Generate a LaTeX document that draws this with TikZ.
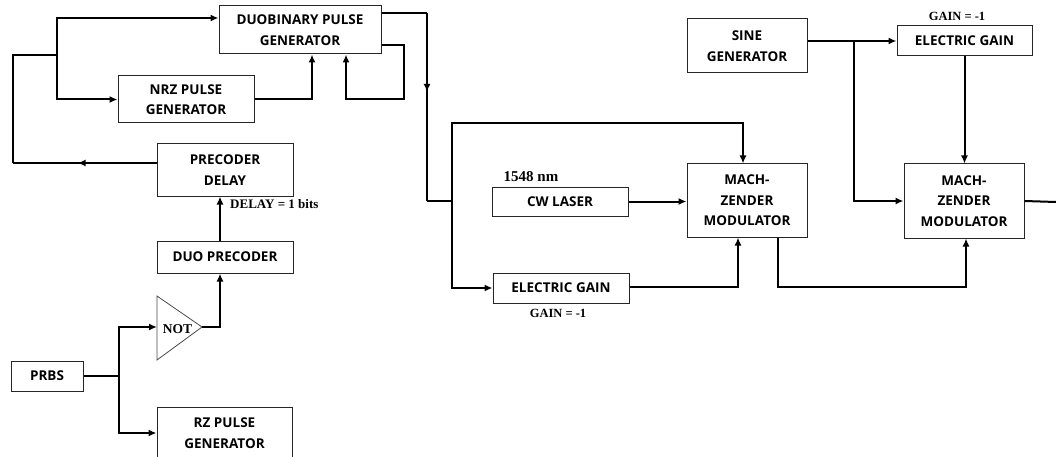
\documentclass[tikz,border=0pt]{standalone}
\usepackage{fontspec}
\newfontfamily\boxfont{Open Sans}
\newfontfamily\labfont{Liberation Serif}
\usetikzlibrary{arrows.meta,decorations.markings}
\begin{document}
\begin{tikzpicture}[x=1pt,y=-1pt,
  blk/.style={draw=black!85, line width=1pt, inner sep=0pt, align=center,
    font=\boxfont\bfseries\fontsize{13.5}{20.5}\selectfont},
  conn/.style={line width=2pt, black},
  arr/.style={conn,-{Latex[length=8pt,width=7pt]}},
  midarr/.style={postaction=decorate, decoration={markings,
    mark=at position #1 with {\arrow{Latex[length=8pt,width=7pt]}}}},
  lab/.style={font=\labfont\bfseries\fontsize{12.5}{14}\selectfont, inner sep=0pt}
]
\useasboundingbox (0,0) rectangle (1056,457);
\fill[white] (0,0) rectangle (1056,457);

% blocks
\node[blk, minimum width=162pt, minimum height=48pt] (duo) at (300,30) {DUOBINARY PULSE\\GENERATOR};
\node[blk, minimum width=136pt, minimum height=47pt] (nrz) at (186,99.5) {NRZ PULSE\\GENERATOR};
\node[blk, minimum width=136pt, minimum height=52pt] (pdel) at (225,170) {PRECODER\\DELAY};
\node[blk, minimum width=136pt, minimum height=32pt] (dpre) at (225,257) {DUO PRECODER};
\node[blk, minimum width=72pt, minimum height=30pt] (prbs) at (47,376) {PRBS};
\node[blk, minimum width=135pt, minimum height=52pt] (rz) at (224.5,433) {RZ PULSE\\GENERATOR};
\node[blk, minimum width=136pt, minimum height=29pt] (cw) at (560,201.5) {CW LASER};
\node[blk, minimum width=136pt, minimum height=30pt] (eg1) at (561,288) {ELECTRIC GAIN};
\node[blk, minimum width=120pt, minimum height=73pt] (mzm1) at (747,200.5) {MACH-\\ZENDER\\MODULATOR};
\node[blk, minimum width=120pt, minimum height=54pt] (sine) at (747,46) {SINE\\GENERATOR};
\node[blk, minimum width=135pt, minimum height=30pt] (eg2) at (964.5,41) {ELECTRIC GAIN};
\node[blk, minimum width=120pt, minimum height=74pt] (mzm2) at (964,201) {MACH-\\ZENDER\\MODULATOR};

% NOT gate
\coordinate (nt1) at (157,296);
\coordinate (nb) at (157,360);
\coordinate (ntip) at (202,327);
\coordinate (notin) at (157,327);
\draw[black!70, line width=0.8pt] (nt1) -- (ntip) -- (nb) -- cycle;
\node[lab, font=\labfont\bfseries\fontsize{13.5}{15}\selectfont] (nottxt) at (177.5,329) {NOT};

% labels
\node[lab, font=\labfont\bfseries\fontsize{13}{15}\selectfont, anchor=west] (dl) at (230,204) {DELAY = 1 bits};
\node[lab, font=\labfont\bfseries\fontsize{15}{17}\selectfont] (nm) at (531,177) {1548 nm};
\node[lab] (g1) at (558,313) {GAIN = -1};
\node[lab] (g2) at (957,16) {GAIN = -1};

% left loop
\coordinate (jl) at (57,55);
\coordinate (lb) at (13,163);
\coordinate (lt) at (13,55);
\draw[conn, midarr=0.55] ([yshift=7pt]pdel.west) -- (lb);
\draw[conn] (lb) -- (lt) -- (jl);
\draw[arr] (jl) |- ([yshift=12pt]duo.west);
\draw[arr] (jl) |- (nrz.west);
\draw[arr] (nrz.east) -| ([xshift=12pt]duo.south);

% feedback
\coordinate (fb1) at (404,45);
\coordinate (fb2) at (404,99);
\draw[arr] ([yshift=-15pt]duo.east) -- (fb1) -- (fb2) -| ([xshift=46pt]duo.south);

% duobinary output
\coordinate (o1) at (427,13);
\coordinate (o2) at (427,201);
\coordinate (j1) at (452,201);
\coordinate (t1) at (452,123);
\draw[conn] ([yshift=17pt]duo.east) -- (o1);
\draw[conn, midarr=0.42] (o1) -- (o2);
\draw[conn] (o2) -- (j1);
\draw[arr] (j1) -- (t1) -| ([xshift=-4pt]mzm1.north);
\draw[arr] (j1) |- (eg1.west);
\draw[arr] (cw.east) -- (cw.east -| mzm1.west);
\draw[arr] ([yshift=1pt]eg1.east) -| ([xshift=-9pt]mzm1.south);

% second stage
\coordinate (b1) at (778,287);
\draw[arr] ([xshift=31pt]mzm1.south) -- (b1) -| ([xshift=2pt]mzm2.south);
\coordinate (j2) at (854,41);
\draw[arr] ([yshift=5pt]sine.east) -- (j2) -- (eg2.west);
\draw[arr] (j2) |- (mzm2.west);
\draw[arr] (eg2.south) -- (eg2.south |- mzm2.north);
\coordinate (out) at (1056,202);
\draw[conn] (mzm2.east) -- (out);

% PRBS branch
\coordinate (j3) at (119,376);
\draw[conn] (prbs.east) -- (j3);
\draw[arr] (j3) |- (notin);
\draw[arr] (j3) |- (rz.west);
\draw[arr] (ntip) -| ([xshift=-5pt]dpre.south);
\draw[arr] ([xshift=-5pt]dpre.north) -- ([xshift=-5pt]pdel.south);
\end{tikzpicture}
\end{document}
